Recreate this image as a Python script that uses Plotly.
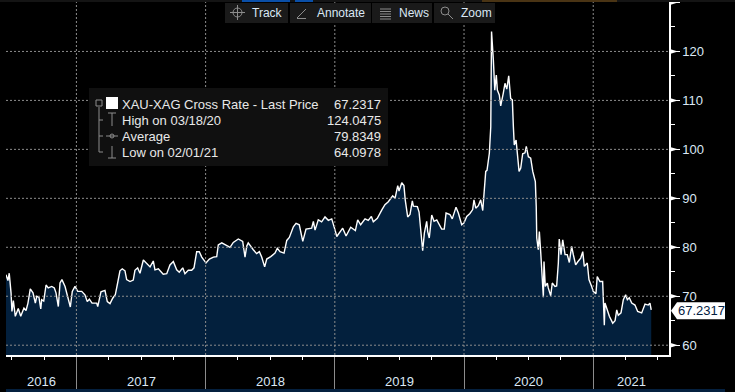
import plotly.graph_objects as go

# Observation time (decimal years) and XAU-XAG cross rate
years = [
 2016.455,2016.470,2016.480,2016.494,2016.501,2016.512,2016.527,2016.538,2016.550,2016.569,2016.594,2016.610,2016.625,2016.643,2016.664,2016.682,2016.693,2016.710,2016.724,2016.731,2016.747,2016.765,2016.782,2016.809,2016.829,2016.842,2016.860,2016.873,2016.888,2016.912,2016.935,2016.953,2016.968,2016.989,
 2017.010,2017.041,2017.066,2017.084,2017.100,2017.121,2017.157,2017.165,2017.190,2017.221,2017.239,2017.260,2017.281,2017.301,2017.316,2017.337,2017.355,2017.376,2017.389,2017.415,2017.440,2017.453,2017.474,2017.492,2017.518,2017.549,2017.570,2017.595,2017.608,2017.634,2017.672,2017.699,2017.724,2017.750,2017.776,2017.796,2017.823,2017.840,2017.866,2017.892,2017.910,2017.931,2017.951,2017.970,
 2018.003,2018.029,2018.060,2018.086,2018.098,2018.125,2018.163,2018.189,2018.214,2018.253,2018.287,2018.305,2018.318,2018.330,2018.369,2018.395,2018.416,2018.434,2018.457,2018.473,2018.504,2018.537,2018.555,2018.576,2018.607,2018.628,2018.648,2018.679,2018.700,2018.725,2018.752,2018.777,2018.821,2018.834,2018.847,2018.872,2018.898,2018.924,2018.950,2018.976,
 2019.001,2019.015,2019.061,2019.087,2019.123,2019.159,2019.177,2019.200,2019.234,2019.259,2019.283,2019.298,2019.329,2019.344,2019.365,2019.388,2019.414,2019.448,2019.466,2019.487,2019.497,2019.518,2019.535,2019.545,2019.564,2019.582,2019.600,2019.608,2019.639,2019.652,2019.665,2019.680,2019.693,2019.711,2019.719,2019.731,2019.750,2019.768,2019.789,2019.809,2019.827,2019.847,2019.861,2019.891,2019.909,2019.938,2019.956,2019.982,
 2020.000,2020.021,2020.046,2020.067,2020.077,2020.091,2020.111,2020.129,2020.145,2020.157,2020.168,2020.178,2020.196,2020.207,2020.213,2020.227,2020.238,2020.250,2020.258,2020.273,2020.284,2020.304,2020.317,2020.331,2020.346,2020.361,2020.374,2020.382,2020.389,2020.403,2020.413,2020.426,2020.439,2020.454,2020.472,2020.482,2020.498,2020.516,2020.532,2020.544,2020.552,2020.559,2020.563,2020.575,2020.583,2020.594,2020.604,2020.614,2020.619,2020.629,2020.645,2020.652,2020.671,2020.683,2020.704,2020.717,2020.730,2020.737,2020.751,2020.764,2020.782,2020.799,2020.815,2020.833,2020.846,2020.864,2020.882,2020.903,2020.919,2020.931,2020.954,2020.967,2020.988,
 2021.000,2021.021,2021.031,2021.052,2021.073,2021.086,2021.091,2021.109,2021.125,2021.151,2021.169,2021.182,2021.194,2021.215,2021.233,2021.251,2021.264,2021.279,2021.298,2021.323,2021.344,2021.375,2021.401,2021.426,2021.439,2021.449]
ratio = [
 74.4,73.2,74.7,70.7,66.9,69.1,65.9,66.6,67.5,65.9,67.6,67.1,68.6,71.5,70.7,68.6,70,69.8,67.4,69.3,69,72.3,71.7,72,71.7,70.7,67.9,72.7,73.4,72,69.3,67.8,71,72,
 71,71,70.3,68.9,69.4,68.6,68.6,67.9,70.9,71.2,68.9,68.5,69.6,70.3,72.3,75.2,75.6,75.2,73.4,73,73.3,75.3,75.8,74.7,77.4,76.6,76,77.2,75.4,75.6,74.5,74.6,76.4,77.1,75.4,74.9,75.8,74.6,75.3,75.3,75.8,79.1,79.1,78,
 76.8,77.6,78,78.1,80.5,80.9,80.3,80,81,81.7,81.2,78,80.2,80.9,79.5,78.7,79.1,78,76,77.6,78.1,78.8,79.8,79.1,78.8,81.4,82,84.2,84.9,84.6,81.2,83.7,83.9,85.3,83.5,85.6,85.2,86.2,85.5,85.8,
 83.6,82.2,83.9,82.3,84.1,83.4,85.6,84.6,85.8,85.5,86.3,85.2,85.9,86.8,87.7,88.7,89.3,90.5,90,92.6,91.5,93.2,92.6,89.7,86.2,86.7,89.5,88.4,88.3,87.2,83.9,79.3,82.9,85.3,83.2,81.9,86.6,85.3,85.6,84.6,83.7,83.7,87,86.7,85.8,88.2,87,84.6,
 85,86.3,86.9,87.7,89.7,88,88.5,89.7,87.5,91.7,95.5,95.7,99.2,104.6,124.0475,118.3,112.1,115.2,112.1,111.1,108.9,111.5,113.5,112.3,115,110.4,110.1,104.6,100.9,101.9,98.5,95.5,96.2,99.1,99.3,100.6,98.5,98.2,95.5,93.8,93.4,88.3,81.9,79.5,83.2,78.8,73.4,69.8,77.1,72,72.7,71.7,70.1,72.7,72,72.1,76.8,81.7,78.5,81.5,78.5,78.5,76.9,80.2,78.5,76.4,77.1,77.8,79.1,76.1,76.8,73.4,72,
 71,70.5,74,73,73,64.0978,68.6,67.2,65.9,64.5,65,67.2,66.1,66.6,69.3,70.3,69.3,69.7,68.6,68.2,66.9,66.6,68.4,68.2,68.6,67.2317]

x_range = [2016.455, 2021.5865]
y_range = [58, 130.1]
y_ticks = [60, 70, 80, 90, 100, 110, 120, 130]
y_labels = ["60", "70", "80", "90", "100", "110", "120", ""]
y_minor = [65, 75, 85, 95, 105, 115, 125]
year_bounds = [2017, 2018, 2019, 2020, 2021]
quarters = [2016.5, 2016.75, 2017.25, 2017.5, 2017.75, 2018.25, 2018.5, 2018.75, 2019.25, 2019.5, 2019.75,
            2020.25, 2020.5, 2020.75, 2021.25, 2021.5]
year_labels = ["2016", "2017", "2018", "2019", "2020", "2021"]
year_centers = [2016.727, 2017.5, 2018.5, 2019.5, 2020.5, 2021.295]

legend_rows = [("XAU-XAG Cross Rate - Last Price", "67.2317"), ("High on 03/18/20", "124.0475"),
               ("Average", "79.8349"), ("Low on 02/01/21", "64.0978")]
toolbar = [("Track", 225, 288, 250), ("Annotate", 290, 371, 315), ("News", 372, 432, 397), ("Zoom", 434, 495, 459)]
last_value = ratio[-1]

W, H = 735, 392
ML, MR, MT, MB = 6, 66, 2, 37
PW, PH = W - ML - MR, H - MT - MB
TXT = "#dbe8f5"
FONT = "Liberation Sans"

def px(x): return (x - ML) / PW
def py(y): return 1 - (y - MT) / PH

shapes = []
def rect(x0, y0, x1, y1, color):
    shapes.append(dict(type="rect", xref="paper", yref="paper", x0=px(x0), x1=px(x1), y0=py(y0), y1=py(y1),
                       fillcolor=color, line_width=0, layer="above"))
def seg(x0, y0, x1, y1, color="#8c8c8c", w=1, dash=None):
    shapes.append(dict(type="line", xref="paper", yref="paper", x0=px(x0), x1=px(x1), y0=py(y0), y1=py(y1),
                       line=dict(color=color, width=w, dash=dash), layer="above"))
def ring(x0, y0, x1, y1, color="#8c8c8c"):
    shapes.append(dict(type="circle", xref="paper", yref="paper", x0=px(x0), x1=px(x1), y0=py(y0), y1=py(y1),
                       line=dict(color=color, width=1), layer="above"))

# dashed grid drawn over the area fill
for v in y_ticks[:-1]:
    shapes.append(dict(type="line", xref="paper", yref="y", x0=0, x1=1, y0=v, y1=v,
                       line=dict(color="#8c8c8c", width=1, dash="2px,2px"), layer="above"))
for v in year_bounds:
    shapes.append(dict(type="line", xref="x", yref="paper", x0=v, x1=v, y0=0, y1=1,
                       line=dict(color="#8c8c8c", width=1, dash="2px,2px"), layer="above"))

# value-axis pointers
for v in y_ticks:
    shapes.append(dict(type="path", xref="paper", yref="y", fillcolor="white", line_width=0, layer="above",
                       path=f"M {px(669)} {v-0.55} L {px(678)} {v} L {px(669)} {v+0.55} Z"))

# last price flag
d = 8.5 / 4.9
flag_mid = last_value - 0.2
shapes.append(dict(type="path", xref="paper", yref="y", fillcolor="white", line_width=0, layer="above",
                   path=f"M {px(671)} {flag_mid} L {px(677)} {flag_mid+d} L {px(725)} {flag_mid+d} "
                        f"L {px(725)} {flag_mid-d} L {px(677)} {flag_mid-d} Z"))

# top and bottom window strips
rect(0, 0, 735, 2, "#141414")
rect(242, 0, 290, 2, "#0a4fa8")
rect(295, 0, 313, 2, "#0a4fa8")
rect(482, 0, 617, 2, "#4a3414")
rect(6, 389, 725, 392, "#04203f")

# toolbar
for _, a, b, _t in toolbar:
    rect(a, 3, b, 23, "#1a1a1a")
ring(233, 8, 242, 17); seg(237.5, 5, 237.5, 20); seg(230, 12.5, 245, 12.5)
seg(297, 18, 306, 9); seg(297, 18.5, 306, 18.5)
for y in (9, 11.5, 14, 16.5, 19):
    seg(380, y, 391, y)
ring(441, 7, 449, 15); seg(448, 14, 453, 19)

# legend box
rect(89, 88, 388, 166, "#101010")
seg(99, 107, 99, 152); seg(99, 152, 103, 152); seg(99, 120, 103, 120); seg(99, 136, 103, 136)
shapes.append(dict(type="rect", xref="paper", yref="paper", x0=px(96), x1=px(102), y0=py(106), y1=py(100),
                   line=dict(color="#8c8c8c", width=1), layer="above"))
rect(106, 97, 118, 109, "#ffffff")
seg(108, 113, 116, 113); seg(112, 113, 112, 126)
seg(106, 136, 118, 136); ring(110, 134, 114, 138)
seg(112, 146, 112, 158); seg(108, 158, 116, 158)

annotations = []
for t, c in zip(year_labels, year_centers):
    annotations.append(dict(text=t, x=c, xref="x", y=py(381), yref="paper", showarrow=False,
                            xanchor="center", yanchor="middle", font=dict(family=FONT, size=13, color=TXT)))
for i, (a, b) in enumerate(legend_rows):
    yy = py(104.5 + 16 * i)
    annotations.append(dict(text=a, x=px(120), xref="paper", y=yy, yref="paper", showarrow=False, xanchor="left",
                            yanchor="middle", font=dict(family=FONT, size=13, color="#e8e8e8")))
    annotations.append(dict(text=b, x=px(383), xref="paper", y=yy, yref="paper", showarrow=False, xanchor="right",
                            yanchor="middle", font=dict(family=FONT, size=13, color="#e8e8e8")))
for t, a, b, tx in toolbar:
    annotations.append(dict(text=t, x=px(tx), xref="paper", y=py(13), yref="paper", showarrow=False, xanchor="left",
                            yanchor="middle", font=dict(family=FONT, size=12, color=TXT)))
annotations.append(dict(text=f"{last_value:.4f}", x=px(677), xref="paper", y=flag_mid, yref="y", showarrow=False,
                        xanchor="left", yanchor="middle", height=13, borderpad=0,
                        font=dict(family=FONT, size=13, color="#04203f")))

fig = go.Figure(go.Scatter(x=years, y=ratio, mode="lines", fill="tozeroy", fillcolor="#03203d",
                           line=dict(color="white", width=1.4), hoverinfo="skip", showlegend=False))
fig.update_layout(
    width=W, height=H, margin=dict(l=ML, r=MR, t=MT, b=MB, autoexpand=False),
    paper_bgcolor="black", plot_bgcolor="black", shapes=shapes, annotations=annotations,
    font=dict(family=FONT, size=13, color=TXT), showlegend=False,
    xaxis=dict(range=x_range, tickmode="array", tickvals=year_bounds, ticktext=[""] * len(year_bounds),
               ticks="outside", ticklen=33, tickwidth=1, tickcolor="#8c8c8c", showgrid=False, zeroline=False,
               showline=True, linecolor="white", linewidth=1.5,
               minor=dict(tickmode="array", tickvals=quarters, ticks="outside", ticklen=3, tickcolor="white",
                          tickwidth=1, showgrid=False)),
    yaxis=dict(range=y_range, side="right", tickmode="array", tickvals=y_ticks, ticktext=y_labels,
               ticks="outside", ticklen=9, tickwidth=1, tickcolor="white", showgrid=False, zeroline=False,
               showline=True, linecolor="white", linewidth=1.5,
               tickfont=dict(family=FONT, size=13, color=TXT),
               minor=dict(tickmode="array", tickvals=y_minor, ticks="outside", ticklen=4, tickcolor="white",
                          tickwidth=1, showgrid=False)),
)
fig.write_html("out.html", config=dict(displayModeBar=False),
               post_script="document.body.style.margin='0';document.body.style.overflow='hidden';document.body.style.background='black';")
